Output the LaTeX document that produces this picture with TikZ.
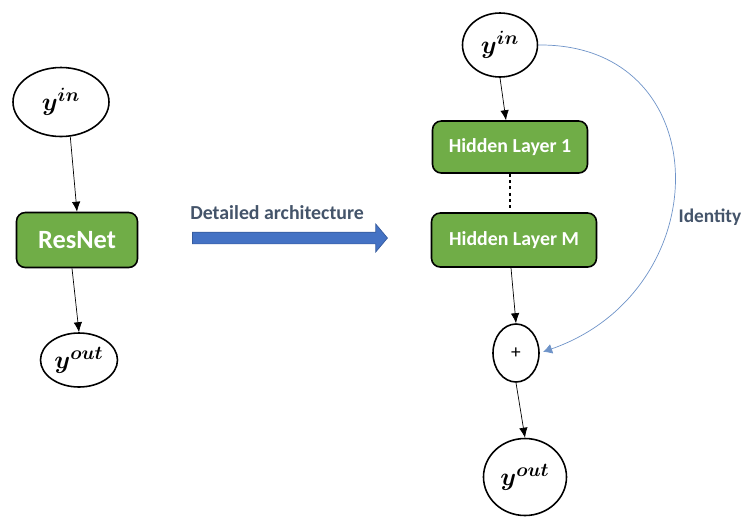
\documentclass[tikz,border=0pt]{standalone}
\usepackage{amsmath}
\usepackage{bm}
\usepackage{fontspec}
\setmainfont{Carlito}
\usepackage{tikz}
\usetikzlibrary{arrows, arrows.meta}
\usetikzlibrary{shapes.geometric, shapes.arrows, positioning}
\definecolor{layergreen}{HTML}{70AD47}
\definecolor{arrowblue}{HTML}{4472C4}
\definecolor{curveblue}{HTML}{6E93C8}
\definecolor{textgray}{HTML}{44546A}
\tikzstyle{arrow} = [-{Latex[length=0.2cm,width=0.17cm]}]
\tikzstyle{var} = [ellipse, draw, line width=0.9pt, inner sep=0pt, font=\fontsize{15}{17}\selectfont]
\tikzstyle{layer} = [rectangle, rounded corners=5pt, draw, line width=0.9pt, fill=layergreen, text=white, font=\bfseries]
\tikzstyle{caption} = [text=textgray, font=\bfseries\fontsize{11.3}{13}\selectfont]

\begin{document}
\begin{tikzpicture}
\useasboundingbox (0,0) rectangle (14.88,-10.32);

\node [var, minimum width=1.92cm, minimum height=1.38cm] (yinl) at (1.22,-2.04) {$\bm{y^{in}}$};
\node [layer, minimum width=2.42cm, minimum height=1.1cm, font=\bfseries\fontsize{15}{18}\selectfont] (resnet) at (1.54,-4.8) {ResNet};
\node [var, minimum width=1.54cm, minimum height=1.08cm] (youtl) at (1.58,-7.2) {$\bm{y^{out}}$};

\node [single arrow, draw=arrowblue!80!black, fill=arrowblue, inner sep=0pt, text height=0pt, text depth=0pt, inner ysep=0.11cm, minimum height=3.9cm, single arrow head extend=0.16cm, single arrow tip angle=100] (detail) at (5.75,-4.76) {};
\node [caption, anchor=west, inner sep=0pt] (detailtext) at (3.8,-4.26) {Detailed architecture};

\node [var, minimum width=1.5cm, minimum height=1.28cm] (yinr) at (10,-0.9) {$\bm{y^{in}}$};
\node [layer, minimum width=3.1cm, minimum height=1.04cm, font=\bfseries\fontsize{11.3}{13}\selectfont] (hid1) at (10.2,-2.94) {Hidden Layer 1};
\node [layer, minimum width=3.3cm, minimum height=1.08cm, font=\bfseries\fontsize{11.3}{13}\selectfont] (hidm) at (10.28,-4.8) {Hidden Layer M};
\node [ellipse, draw, line width=0.9pt, minimum width=0.92cm, minimum height=1.16cm, inner sep=0pt, font=\fontsize{11}{12}\selectfont] (plus) at (10.32,-7.06) {+};
\node [var, minimum width=1.66cm, minimum height=1.54cm] (youtr) at (10.5,-9.54) {$\bm{y^{out}}$};

\draw [arrow] (yinl.-75) to (resnet.north);
\draw [arrow] ([xshift=-0.1cm]resnet.south) to (youtl.north);

\draw [arrow] (yinr.south) to ([xshift=-0.08cm]hid1.north);
\draw [line width=1.6pt, dotted] (hid1.south) to (hid1.south |- hidm.north);
\draw [arrow] ([xshift=-0.06cm]hidm.south) to (plus.north);
\draw [arrow] (plus.south) to (youtr.north);

\draw [curveblue, -{Latex[length=0.18cm,width=0.2cm]}, thin, shorten >=2pt] (yinr.east) .. controls (14.36,-0.86) and (14.4,-5.8) .. node [pos=0.6, anchor=west, caption, font=\bfseries\fontsize{11}{13}\selectfont, xshift=2pt] {Identity} (plus.east);
\end{tikzpicture}
\end{document}
